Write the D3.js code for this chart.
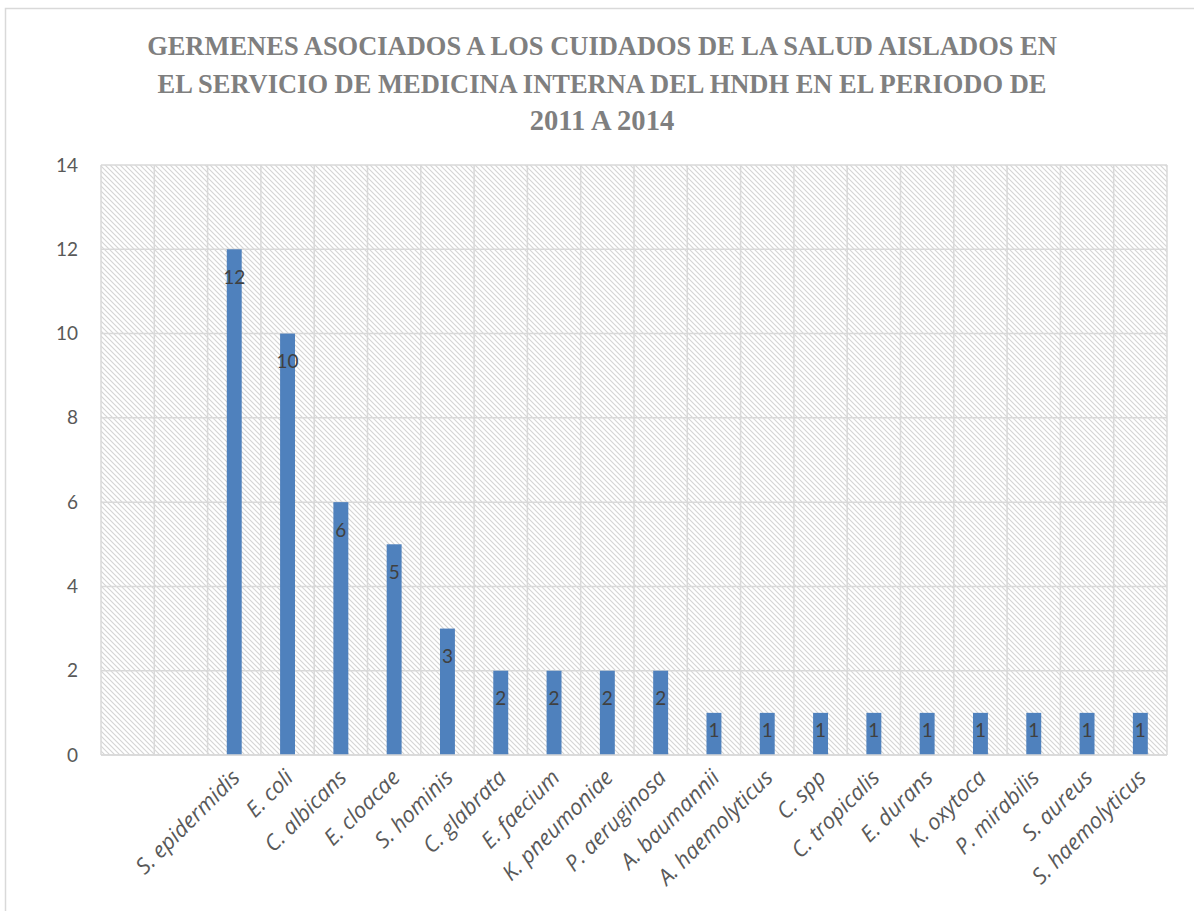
<!DOCTYPE html>
<html>
<head>
<meta charset="utf-8">
<script src="https://cdn.jsdelivr.net/npm/d3@7"></script>
<style>
  html, body { margin: 0; padding: 0; background: #ffffff; }
  svg { display: block; }
</style>
</head>
<body>
<svg id="chart" width="1194" height="911"></svg>
<script>
// ---- data ----
const titleLines = [
  "GERMENES ASOCIADOS A LOS CUIDADOS DE LA SALUD AISLADOS EN",
  "EL SERVICIO DE MEDICINA INTERNA DEL HNDH EN EL PERIODO DE",
  "2011 A 2014"
];
const categories = ["", "", "S. epidermidis", "E. coli", "C. albicans", "E. cloacae", "S. hominis",
  "C. glabrata", "E. faecium", "K. pneumoniae", "P. aeruginosa", "A. baumannii",
  "A. haemolyticus", "C. spp", "C. tropicalis", "E. durans", "K. oxytoca",
  "P. mirabilis", "S. aureus", "S. haemolyticus"];
const values = [null, null, 12, 10, 6, 5, 3, 2, 2, 2, 2, 1, 1, 1, 1, 1, 1, 1, 1, 1];
const yTicks = [0, 2, 4, 6, 8, 10, 12, 14];

// ---- layout ----
const svg = d3.select("#chart");
const plot = { left: 101, right: 1167, top: 165, bottom: 755 };
const gridColor = "#d9d9d9";

// outer chart border
svg.append("rect")
  .attr("x", 5.5).attr("y", 8.5).attr("width", 1210).attr("height", 930)
  .attr("fill", "#fff").attr("stroke", gridColor).attr("stroke-width", 1.5);

// hatch pattern
const defs = svg.append("defs");
const pat = defs.append("pattern")
  .attr("id", "hatch").attr("patternUnits", "userSpaceOnUse")
  .attr("width", 5).attr("height", 5);
pat.append("rect").attr("width", 5).attr("height", 5).attr("fill", "#fff");
pat.append("path").attr("d", "M-1,-1 L6,6 M-1,4 L1,6 M4,-1 L6,1")
  .attr("stroke", "#d4d4d4").attr("stroke-width", 1.1);

// title
const title = svg.append("g");
titleLines.forEach((t, i) => {
  title.append("text")
    .attr("x", 602).attr("y", 55 + i * 37.5)
    .attr("text-anchor", "middle")
    .attr("font-family", "'Liberation Serif', 'DejaVu Serif', serif")
    .attr("font-weight", "bold")
    .attr("font-size", 26)
    .attr("fill", "#7f7f7f")
    .text(t);
});
// fit first line width to ~910px
const t0 = title.select("text").node();
const w0 = t0.getComputedTextLength();
const fs = 26 * 910 / w0;
title.selectAll("text").attr("font-size", fs);
// last line: wider digits in the original face
const tl = title.selectAll("text").nodes()[2];
d3.select(tl).attr("font-size", fs * 1.08);

// scales
const idx = d3.range(categories.length);
const x = d3.scaleBand().domain(idx).range([plot.left, plot.right])
  .paddingInner(0.72).paddingOuter(0.36);
const cols = d3.scaleBand().domain(idx).range([plot.left, plot.right]).padding(0);
const y = d3.scaleLinear().domain([0, 14]).range([plot.bottom, plot.top]);

// plot background
svg.append("rect")
  .attr("x", plot.left).attr("y", plot.top)
  .attr("width", plot.right - plot.left).attr("height", plot.bottom - plot.top)
  .attr("fill", "url(#hatch)");

// horizontal gridlines
svg.append("g").selectAll("line").data(yTicks).join("line")
  .attr("x1", plot.left).attr("x2", plot.right)
  .attr("y1", d => y(d)).attr("y2", d => y(d))
  .attr("stroke", gridColor).attr("stroke-width", 1.5);

// vertical gridlines at category boundaries
const bounds = idx.map(i => cols(i)).concat([plot.right]);
svg.append("g").selectAll("line").data(bounds).join("line")
  .attr("x1", d => d).attr("x2", d => d)
  .attr("y1", plot.top).attr("y2", plot.bottom)
  .attr("stroke", gridColor).attr("stroke-width", 1.5);

// y axis labels
const yAxis = d3.axisLeft(y).tickValues(yTicks).tickSize(0).tickPadding(0);
const gy = svg.append("g").attr("transform", `translate(78,0)`).call(yAxis);
gy.select(".domain").remove();
gy.selectAll("text")
  .attr("font-family", "Lato, 'Open Sans', sans-serif")
  .attr("font-size", 19).attr("fill", "#595959");

// bars
const bars = idx.filter(i => values[i] != null);
svg.append("g").selectAll("rect").data(bars).join("rect")
  .attr("x", i => x(i)).attr("width", x.bandwidth())
  .attr("y", i => y(values[i])).attr("height", i => y(0) - y(values[i]))
  .attr("fill", "#4f81bd");

// value labels
svg.append("g").selectAll("text").data(bars).join("text")
  .attr("x", i => x(i) + x.bandwidth() / 2)
  .attr("y", i => Math.min(y(values[i]) + 28, y(0) - 25))
  .attr("dy", "0.35em")
  .attr("text-anchor", "middle")
  .attr("font-family", "Lato, 'Open Sans', sans-serif")
  .attr("font-size", 19).attr("fill", "#404040")
  .text(i => values[i]);

// x axis
const xAxis = d3.axisBottom(x).tickFormat(i => categories[i]).tickSize(0).tickPadding(0);
const gx = svg.append("g").attr("transform", `translate(0,${plot.bottom})`).call(xAxis);
gx.select(".domain").attr("stroke", gridColor).attr("stroke-width", 1.5)
  .attr("d", `M${plot.left},0H${plot.right}`);
gx.selectAll(".tick text")
  .attr("font-family", "'Open Sans', Lato, sans-serif")
  .attr("font-style", "italic")
  .attr("font-size", 22).attr("fill", "#595959")
  .attr("text-anchor", "end")
  .attr("dy", "0")
  .attr("transform", "translate(7,24) rotate(-45)");
</script>
</body>
</html>
